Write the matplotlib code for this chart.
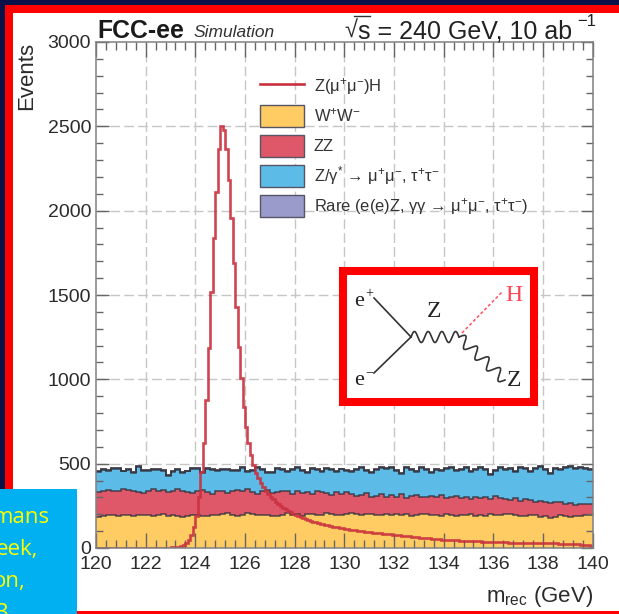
import numpy as np
import matplotlib
matplotlib.use("Agg")
import matplotlib.pyplot as plt
from matplotlib.patches import Rectangle, Patch
from matplotlib.lines import Line2D

plt.rcParams['font.family'] = ['Liberation Sans', 'DejaVu Sans']
plt.rcParams['mathtext.fontset'] = 'custom'
plt.rcParams['mathtext.rm'] = 'Liberation Sans'
plt.rcParams['mathtext.it'] = 'Liberation Sans:italic'
plt.rcParams['mathtext.bf'] = 'Liberation Sans:bold'

X_MIN, X_MAX = 120, 140
Y_MAX = 3000

signal_zh = [
    0, 0, 0, 0, 0, 0, 0, 0, 0, 0,
    0, 0, 0, 0, 0, 0, 0, 0, 0, 0,
    0, 0, 0, 1, 1, 1, 1, 1, 2, 2,
    3, 3, 5, 7, 10, 18, 30, 50, 80, 125,
    190, 300, 450, 622, 877, 1185, 1520, 1837, 2113, 2365,
    2500, 2480, 2365, 2180, 1957, 1688, 1427, 1190, 1005, 835,
    720, 622, 550, 490, 445, 415, 385, 360, 340, 320,
    305, 290, 275, 262, 250, 240, 230, 220, 212, 204,
    198, 190, 183, 178, 172, 166, 162, 156, 152, 148,
    144, 140, 137, 134, 130, 127, 125, 122, 120, 116,
    112, 110, 108, 106, 104, 102, 100, 98, 96, 94,
    92, 91, 89, 88, 86, 85, 84, 82, 81, 79,
    77, 76, 75, 73, 72, 71, 70, 68, 67, 66,
    62, 61, 60, 58, 57, 56, 54, 53, 52, 50,
    48, 47, 47, 46, 45, 45, 44, 43, 43, 42,
    41, 41, 40, 39, 39, 38, 37, 37, 36, 36,
    35, 34, 34, 33, 33, 33, 32, 32, 32, 31,
    31, 31, 30, 30, 30, 30, 29, 29, 29, 29,
    28, 28, 28, 27, 27, 27, 26, 26, 25, 25,
    24, 23, 23, 22, 21, 20, 19, 17, 15, 13,
]

ww = [
    186, 192, 196, 196, 192, 198, 194, 190, 196, 198, 194, 192, 198, 200, 192, 196, 190, 186, 192, 196, 198, 190, 192, 198, 196, 200,
    206, 196, 192, 194, 206, 200, 194, 196, 198, 192, 192, 196, 206, 198, 200, 192, 200, 202, 196, 194, 206, 200, 198, 196, 204,
    206, 202, 196, 200, 204, 196, 198, 204, 194, 200, 198, 202, 190, 196, 200, 204, 194, 198, 188, 200, 196, 192, 198, 194, 200,
    190, 198, 192, 200, 196, 194, 202, 200, 198, 192, 190, 194, 198, 186, 192, 178, 186, 196, 190, 184, 188, 192, 194, 196,
]
zz = [
    144, 148, 149, 144, 143, 152, 151, 145, 134, 127, 141, 158, 142, 145, 138, 139, 162, 154, 138, 129, 137, 155, 138, 122, 139, 140,
    119, 139, 153, 146, 144, 130, 126, 139, 147, 133, 138, 139, 134, 122, 135, 133, 130, 118, 139, 136, 119, 115, 132, 124, 126,
    114, 108, 119, 125, 101, 114, 122, 96, 121, 105, 122, 93, 120, 119, 105, 96, 116, 102, 127, 95, 109, 118, 97, 106, 90,
    110, 97, 113, 90, 114, 101, 88, 85, 97, 88, 100, 91, 72, 94, 83, 87, 84, 79, 70, 81, 67, 70, 64, 66,
]
z_gamma = [
    122, 122, 111, 130, 131, 104, 117, 111, 152, 133, 119, 112, 122, 113, 96, 115, 110, 106, 124, 141, 135, 101, 140, 142, 121, 124,
    139, 119, 114, 132, 99, 126, 156, 129, 97, 121, 140, 129, 112, 144, 139, 131, 114, 148, 127, 122, 145, 145, 118, 146, 124,
    132, 154, 159, 131, 137, 154, 152, 168, 161, 151, 119, 177, 152, 135, 169, 164, 136, 162, 139, 173, 171, 146, 169, 172, 160,
    160, 179, 159, 144, 146, 177, 172, 185, 157, 194, 176, 165, 200, 198, 189, 174, 198, 187, 214, 215, 211, 210, 210, 202,
]
rare = [
    6, 5, 7, 6, 6, 5, 6, 7, 6, 5, 6, 6, 7, 5, 6, 6, 7, 6, 5, 6, 6, 7, 6, 5, 6, 6,
    7, 6, 5, 6, 6, 6, 7, 5, 6, 6, 6, 7, 6, 5, 6, 7, 6, 6, 5, 6, 6, 7, 6, 5, 6,
    6, 7, 6, 5, 6, 6, 7, 6, 6, 5, 6, 7, 6, 6, 5, 6, 6, 7, 6, 5, 6, 7, 6, 6, 5,
    6, 6, 7, 5, 6, 6, 6, 7, 6, 5, 6, 6, 7, 6, 5, 6, 6, 7, 6, 5, 6, 6, 7, 6,
]

legend_labels = [
    "Z(μ$^{+}$μ$^{-}$)H",
    "W$^{+}$W$^{-}$",
    "ZZ",
    "Z/γ$^{*}$ → μ$^{+}$μ$^{-}$, τ$^{+}$τ$^{-}$",
    "Rare (e(e)Z, γγ → μ$^{+}$μ$^{-}$, τ$^{+}$τ$^{-}$)",
]
fill_colors = ['#FFCB63', '#DE5869', '#5DBBE8', '#9A9ACB']

W, H = 619, 614
fig = plt.figure(figsize=(W / 100, H / 100), dpi=100, facecolor='#0A1048')

# slide background
bg = fig.add_axes([0, 0, 1, 1], zorder=0)
bg.set_xlim(0, W); bg.set_ylim(H, 0); bg.axis('off')
bg.add_patch(Rectangle((5, 5), W, H, fc='#FF0000', ec='none'))
bg.add_patch(Rectangle((13, 13), W, 598, fc='white', ec='none'))

# main axes
L, R, T, B = 96, 592.7, 42, 548
ax = fig.add_axes([L / W, 1 - B / H, (R - L) / W, (B - T) / H], zorder=1)
ax.patch.set_alpha(0)

edges_c = np.linspace(X_MIN, X_MAX, len(ww) + 1)
edges_f = np.linspace(X_MIN, X_MAX, len(signal_zh) + 1)

for t in np.arange(X_MIN + 2, X_MAX, 2):
    ax.axvline(t, color='#c6c6c6', lw=1, ls=(0, (7, 3)), zorder=0.5)
for t in np.arange(500, Y_MAX, 500):
    ax.axhline(t, color='#c6c6c6', lw=1, ls=(0, (7, 3)), zorder=0.5)

bottom = np.zeros(len(ww))
for i, (vals, col) in enumerate(zip([ww, zz, z_gamma, rare], fill_colors)):
    top = bottom + np.array(vals)
    ax.stairs(top, edges_c, baseline=bottom, fill=True, color=col, lw=0, zorder=1)
    ax.stairs(top, edges_c, baseline=None, color='#34343f', lw=1.4 if i == 3 else 1.1,
              alpha=0.85, zorder=1.2)
    bottom = top

ax.stairs(signal_zh, edges_f, baseline=None, color='#C9303E', lw=1.9, alpha=0.9, zorder=2)

ax.set_xlim(X_MIN, X_MAX)
ax.set_ylim(0, Y_MAX)
ax.set_xticks(np.arange(X_MIN, X_MAX + 1, 2))
ax.set_xticks(np.arange(X_MIN, X_MAX + 0.01, 0.4), minor=True)
ax.set_yticks(np.arange(0, Y_MAX + 1, 500))
ax.set_yticks(np.arange(0, Y_MAX + 1, 100), minor=True)
ax.tick_params(axis='both', which='both', direction='in', top=True, right=True,
               color='#666666', width=1, labelcolor='#2b2b2b', labelsize=14)
ax.tick_params(axis='x', which='major', length=10.5, pad=6)
ax.tick_params(axis='x', which='minor', length=5.5)
ax.tick_params(axis='y', which='major', length=9, pad=3.5)
ax.tick_params(axis='y', which='minor', length=5)
for s in ax.spines.values():
    s.set_color('#808080')
    s.set_linewidth(1.1)

ax.set_ylabel('Events', fontsize=16, color='#2b2b2b', loc='top')
ax.yaxis.set_label_coords((37 - L) / (R - L), 1.0)
ax.set_xlabel('m$_{\\mathrm{rec}}$ (GeV)', fontsize=16, color='#2b2b2b', loc='right')
ax.xaxis.set_label_coords(1.0, -(602 - B) / (B - T))
ax.xaxis.label.set_verticalalignment('baseline')

handles = [Line2D([], [], color='#C9303E', lw=1.9)] + [
    Patch(facecolor=c, edgecolor='#555566', lw=1) for c in fill_colors]
leg = ax.legend(handles, legend_labels, loc='upper left',
                bbox_to_anchor=(260 / W, 1 - 75.5 / H), bbox_transform=fig.transFigure,
                frameon=False, fontsize=11.9, borderpad=0, borderaxespad=0,
                handlelength=2.65, handleheight=1.65, labelspacing=0.47, handletextpad=0.6)
for txt in leg.get_texts():
    txt.set_color('#333333')

# overlay: header text, inset diagram, covering note
ov = fig.add_axes([0, 0, 1, 1], zorder=5)
ov.set_xlim(0, W); ov.set_ylim(H, 0); ov.axis('off'); ov.patch.set_alpha(0)

ov.text(97, 38, 'FCC-ee', fontsize=17.8, fontweight='bold', color='#1a1a1a', va='baseline')
ov.text(194, 37, 'Simulation', fontsize=12.5, style='italic', color='#333333', va='baseline')
ov.text(344, 38, '√', fontsize=17, color='#333333', va='baseline')
ov.plot([354, 370], [16, 16], color='#333333', lw=1)
ov.text(358, 38, 's = 240 GeV, 10 ab', fontsize=18, color='#222222', va='baseline')
ov.text(577, 26, '−1', fontsize=12, color='#222222', va='baseline')

# Feynman diagram inset
ov.add_patch(Rectangle((343, 271), 191, 131, fc='white', ec='#FF0000', lw=5.8))
ov.plot([374, 411], [298, 337], color='#333333', lw=1.2)
ov.plot([374, 411], [373, 337], color='#333333', lw=1.2)
s = np.linspace(0, 1, 200)
ov.plot(411 + 48 * s, 337 - 5.5 * np.sin(2 * np.pi * 3.5 * s), color='#333333', lw=1.2)
dx, dy = 46, 43
n = np.hypot(dx, dy)
amp = 5.5 * np.sin(2 * np.pi * 4 * s)
ov.plot(459 + dx * s + amp * dy / n, 337 + dy * s - amp * dx / n, color='#333333', lw=1.2)
ov.plot([462, 502], [333, 292], color='#FF5060', lw=1.1, ls=(0, (2, 1.5)))
serif = 'Liberation Serif'
ov.text(354, 306, 'e', family=serif, fontsize=16, color='#222222', va='baseline')
ov.text(365, 297, '+', family=serif, fontsize=10, color='#222222', va='baseline')
ov.text(354, 385, 'e', family=serif, fontsize=16, color='#222222', va='baseline')
ov.text(365, 376, '−', family=serif, fontsize=10, color='#222222', va='baseline')
ov.text(434, 317, 'Z', family=serif, fontsize=17, color='#222222', va='baseline', ha='center')
ov.text(514, 301, 'H', family=serif, fontsize=17, color='#FF4455', va='baseline', ha='center')
ov.text(514, 386, 'Z', family=serif, fontsize=17, color='#222222', va='baseline', ha='center')

# covering note box and slide edge
ov.add_patch(Rectangle((0, 489), 77, 125, fc='#00B0F0', ec='none'))
ov.add_patch(Rectangle((77, 611), W - 77, 3, fc='#FF0000', ec='none'))
for line, right, base in [('mans', 49, 523), ('eek,', 38, 555), ('on,', 26, 587), ('3', 8, 619)]:
    ov.text(right, base, line, fontsize=16, color='#FFFF00', ha='right', va='baseline',
            family='Open Sans', clip_on=True)

fig.savefig('out.png', dpi=100, facecolor=fig.get_facecolor())
